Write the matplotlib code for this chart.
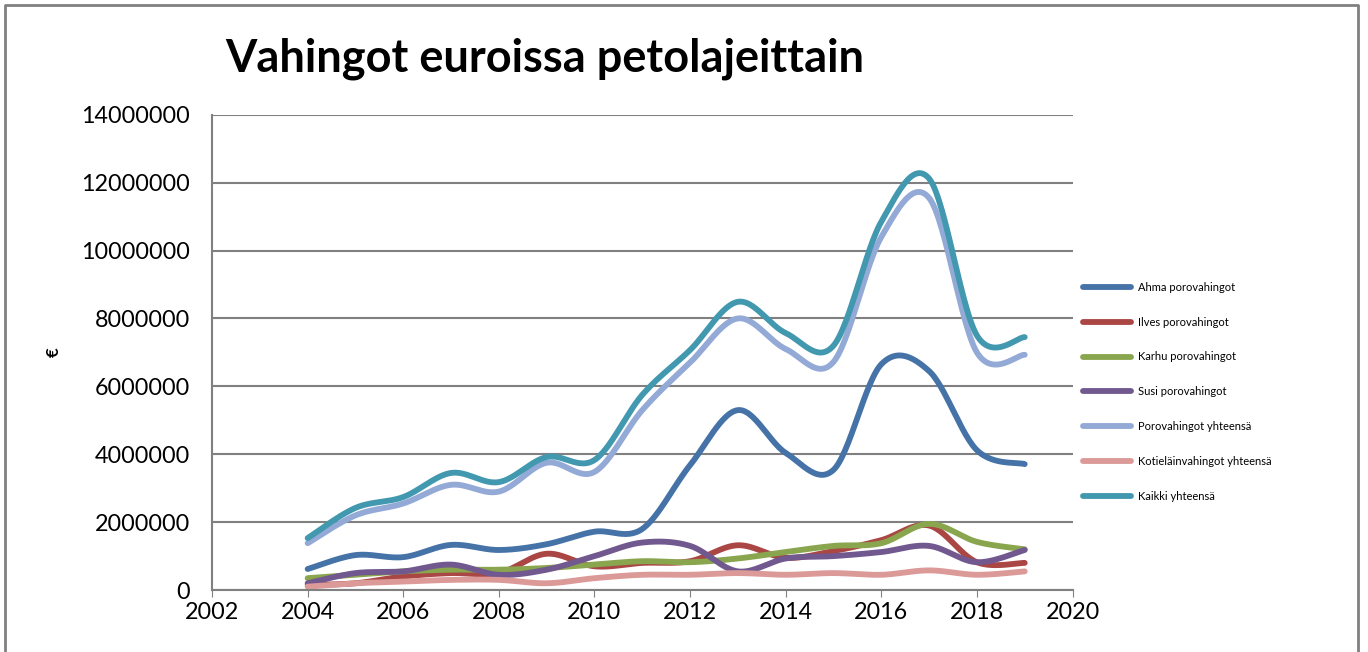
#!/usr/bin/env python3
# -*- coding: utf-8 -*-
"""
绘制各捕食者造成的损失（欧元）
"""

import numpy as np
import matplotlib.pyplot as plt
from matplotlib.lines import Line2D

# 年份
years = [2004, 2005, 2006, 2007, 2008, 2009, 2010, 2011,
         2012, 2013, 2014, 2015, 2016, 2017, 2018, 2019]

# 各系列数据（欧元）
ahma = [0.62e6, 1.03e6, 0.97e6, 1.33e6, 1.18e6, 1.35e6, 1.72e6, 1.80e6,
        3.68e6, 5.30e6, 4.04e6, 3.54e6, 6.65e6, 6.45e6, 4.12e6, 3.71e6]
ilves = [0.15e6, 0.20e6, 0.40e6, 0.50e6, 0.50e6, 1.07e6, 0.70e6, 0.80e6,
         0.85e6, 1.32e6, 0.95e6, 1.15e6, 1.47e6, 1.90e6, 0.82e6, 0.80e6]
karhu = [0.35e6, 0.45e6, 0.55e6, 0.60e6, 0.60e6, 0.65e6, 0.75e6, 0.85e6,
         0.82e6, 0.93e6, 1.12e6, 1.30e6, 1.38e6, 1.95e6, 1.42e6, 1.20e6]
susi = [0.20e6, 0.50e6, 0.55e6, 0.75e6, 0.45e6, 0.60e6, 1.00e6, 1.40e6,
        1.30e6, 0.55e6, 0.93e6, 1.00e6, 1.12e6, 1.30e6, 0.82e6, 1.18e6]
poro_yht = [1.38e6, 2.20e6, 2.55e6, 3.10e6, 2.90e6, 3.75e6, 3.48e6, 5.30e6,
            6.70e6, 8.00e6, 7.10e6, 6.72e6, 10.40e6, 11.55e6, 7.00e6, 6.93e6]
kotielain = [0.10e6, 0.20e6, 0.25e6, 0.30e6, 0.30e6, 0.20e6, 0.35e6, 0.45e6,
             0.45e6, 0.50e6, 0.45e6, 0.50e6, 0.45e6, 0.58e6, 0.45e6, 0.55e6]
kaikki = [1.53e6, 2.42e6, 2.74e6, 3.45e6, 3.18e6, 3.92e6, 3.83e6, 5.75e6,
          7.07e6, 8.49e6, 7.57e6, 7.20e6, 10.85e6, 12.12e6, 7.50e6, 7.45e6]

labels = ['Ahma porovahingot', 'Ilves porovahingot', 'Karhu porovahingot',
          'Susi porovahingot', 'Porovahingot yhteensä',
          'Kotieläinvahingot yhteensä', 'Kaikki yhteensä']
colors = ['#4572A7', '#AA4643', '#89A54E', '#71588F', '#93A9D6', '#DB9A98', '#4198AF']

# 坐标轴刻度
x_ticks = list(range(2002, 2021, 2))
y_ticks = list(range(0, 14000001, 2000000))

plt.rcParams['font.family'] = ['Lato', 'DejaVu Sans']


def smooth(x, y, n=30):
    """Catmull-Rom 平滑曲线（类似 Excel 平滑线）"""
    x = np.asarray(x, dtype=float)
    y = np.asarray(y, dtype=float)
    px = np.concatenate([[x[0]], x, [x[-1]]])
    py = np.concatenate([[y[0]], y, [y[-1]]])
    xs, ys = [], []
    t = np.linspace(0, 1, n)
    for i in range(1, len(px) - 2):
        x0, x1, x2, x3 = px[i - 1], px[i], px[i + 1], px[i + 2]
        y0, y1, y2, y3 = py[i - 1], py[i], py[i + 1], py[i + 2]
        cx1, cy1 = x1 + (x2 - x0) / 6, y1 + (y2 - y0) / 6
        cx2, cy2 = x2 - (x3 - x1) / 6, y2 - (y3 - y1) / 6
        b = [(1 - t) ** 3, 3 * (1 - t) ** 2 * t, 3 * (1 - t) * t ** 2, t ** 3]
        xs.append(b[0] * x1 + b[1] * cx1 + b[2] * cx2 + b[3] * x2)
        ys.append(b[0] * y1 + b[1] * cy1 + b[2] * cy2 + b[3] * y2)
    return np.concatenate(xs), np.concatenate(ys)


def plot_vahingot():
    """绘制损失折线图"""

    fig = plt.figure(figsize=(13.68, 6.52), dpi=100)
    ax = fig.add_axes([0.155, 0.095, 0.629, 0.729])

    # 绘制每条平滑线
    series = [ahma, ilves, karhu, susi, poro_yht, kotielain, kaikki]
    for data, lab, col in zip(series, labels, colors):
        sx, sy = smooth(years, data)
        ax.plot(sx, sy, color=col, linewidth=4.2, label=lab, solid_capstyle='round')

    # 坐标轴设置
    ax.set_xlim(2002, 2020)
    ax.set_ylim(0, 14000000)
    ax.set_xticks(x_ticks)
    ax.set_yticks(y_ticks)
    ax.set_yticklabels([str(v) for v in y_ticks])
    ax.tick_params(axis='both', labelsize=16.8, colors='#808080', labelcolor='black', length=5)
    ax.tick_params(axis='y', length=0, pad=16)
    ax.grid(axis='y', color='#808080', linewidth=1.5)
    ax.set_axisbelow(True)
    for side in ['top', 'right']:
        ax.spines[side].set_visible(False)
    for side in ['left', 'bottom']:
        ax.spines[side].set_color('#808080')
        ax.spines[side].set_linewidth(1.5)

    ax.set_ylabel('€', fontsize=12, fontweight='bold', labelpad=14)
    fig.text(0.165, 0.91, 'Vahingot euroissa petolajeittain', fontsize=32.5,
             fontweight='bold', ha='left', va='center')

    # 图例
    ax.legend(loc='center left', bbox_to_anchor=(1.0, 0.417), frameon=False,
              fontsize=8, handlelength=4.4, labelspacing=2.15, handletextpad=0.6)

    # 外框
    fig.add_artist(Line2D([0.004, 0.004, 0.993, 0.993], [-0.01, 0.993, 0.993, -0.01],
                          transform=fig.transFigure, color='#808080', linewidth=2))

    plt.savefig('out.png', dpi=100)


if __name__ == "__main__":
    plot_vahingot()
